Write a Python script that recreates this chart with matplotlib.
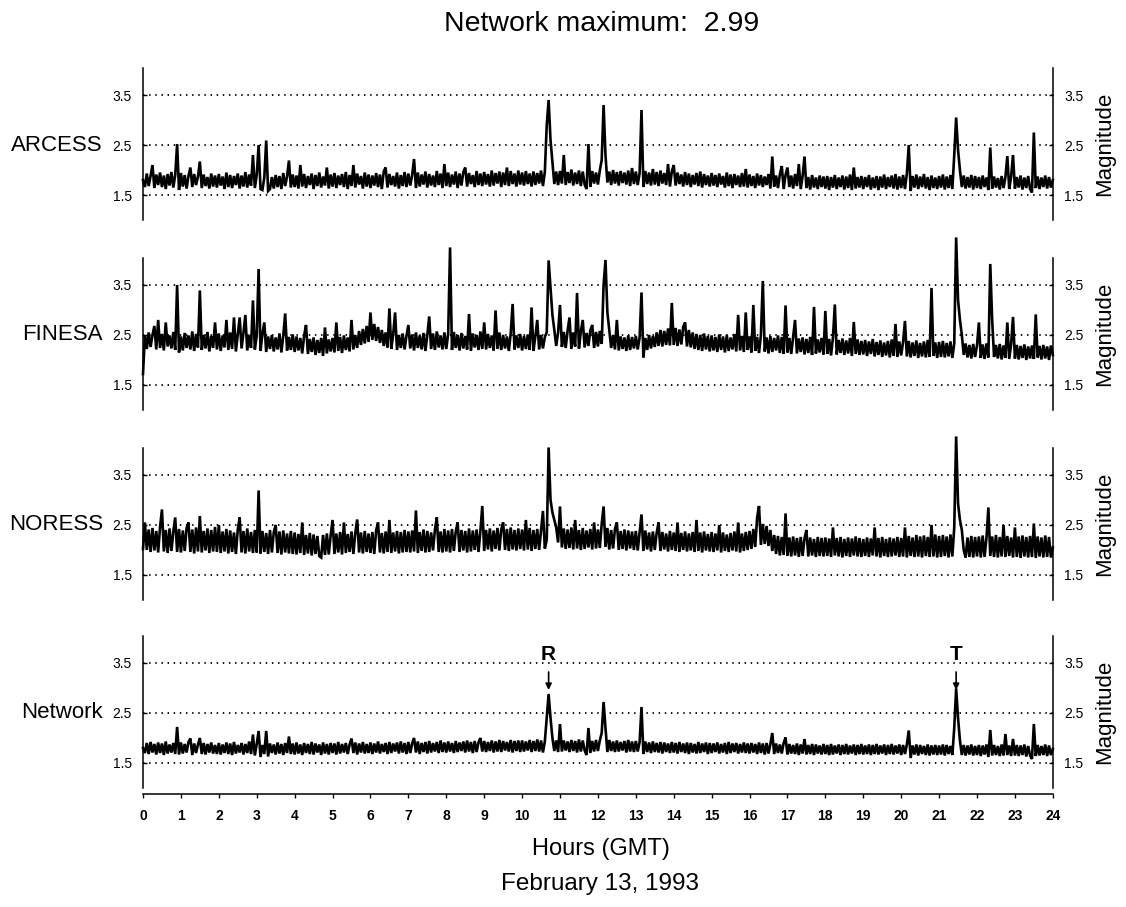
import numpy as np
import matplotlib
matplotlib.use("Agg")
import matplotlib.pyplot as plt

plt.rcParams['font.family'] = ['Liberation Sans', 'DejaVu Sans']

# magnitude samples every 3 minutes (20 per hour)
arcess = [
    1.80, 1.66, 1.93, 1.68, 1.88, 2.10, 1.64, 1.91, 1.70, 1.95, 1.66, 1.89, 1.62, 1.92, 1.69, 1.96, 1.65, 1.90, 2.52, 1.60,
    1.94, 1.67, 1.90, 1.63, 1.88, 2.05, 1.66, 1.92, 1.70, 1.87, 2.17, 1.64, 1.91, 1.68, 1.86, 1.63, 1.93, 1.67, 1.89, 1.65,
    1.92, 1.69, 1.87, 1.62, 1.95, 1.66, 1.90, 1.64, 1.88, 1.70, 1.93, 1.63, 1.89, 1.67, 1.96, 1.65, 1.91, 1.69, 2.30, 1.64,
    1.90, 2.50, 1.62, 1.60, 1.85, 2.59, 1.58, 1.62, 1.86, 1.63, 1.90, 1.66, 1.88, 1.62, 1.94, 1.68, 1.87, 2.19, 1.65, 1.91,
    1.66, 1.89, 1.63, 2.10, 1.67, 1.92, 1.64, 1.88, 1.70, 1.93, 1.62, 1.90, 1.68, 1.95, 1.65, 1.87, 1.69, 2.05, 1.63, 1.91,
    1.67, 1.94, 1.64, 1.89, 1.70, 1.92, 1.66, 1.96, 1.62, 1.90, 1.68, 2.10, 1.65, 1.93, 1.71, 1.88, 1.63, 1.95, 1.67, 1.91,
    1.64, 1.89, 1.69, 1.94, 1.66, 1.91, 1.62, 1.97, 2.05, 1.65, 1.92, 1.70, 1.88, 1.67, 1.95, 1.63, 1.90, 1.68, 1.96, 1.66,
    1.93, 1.69, 1.90, 2.22, 1.64, 1.95, 1.67, 1.91, 1.71, 1.97, 1.65, 1.92, 1.69, 1.89, 1.66, 1.98, 1.70, 1.93, 1.64, 2.12,
    1.68, 1.95, 1.66, 1.91, 1.71, 1.97, 1.64, 1.93, 1.69, 1.96, 2.05, 1.67, 1.94, 1.72, 1.90, 1.66, 1.98, 1.70, 1.93, 1.68,
    1.96, 1.71, 1.92, 1.67, 1.99, 1.69, 1.94, 1.73, 1.97, 1.66, 1.95, 1.70, 2.05, 1.68, 1.98, 1.72, 1.93, 1.67, 1.99, 1.71,
    1.95, 1.69, 1.98, 1.72, 1.93, 1.67, 1.97, 1.70, 1.94, 1.73, 1.99, 1.68, 1.96, 2.90, 3.40, 2.60, 2.15, 1.72, 1.97, 1.70,
    1.98, 1.73, 2.30, 1.70, 1.96, 1.74, 2.01, 1.69, 1.95, 1.72, 1.99, 1.68, 1.97, 1.71, 1.62, 2.52, 1.66, 1.98, 1.73, 1.95,
    1.71, 1.99, 2.20, 3.30, 2.30, 1.75, 1.97, 1.70, 2.00, 1.73, 1.96, 1.69, 1.98, 1.74, 1.95, 1.71, 1.99, 1.68, 2.04, 1.72,
    1.97, 1.70, 1.94, 3.20, 1.66, 1.98, 1.72, 1.95, 1.69, 2.02, 1.71, 1.96, 1.68, 1.99, 1.73, 1.94, 1.70, 2.12, 1.67, 1.97,
    2.10, 1.69, 1.95, 1.72, 1.91, 1.67, 1.96, 1.70, 1.93, 1.66, 1.90, 1.71, 1.94, 1.68, 1.97, 1.65, 1.92, 1.70, 1.89, 1.67,
    1.94, 1.69, 1.90, 1.66, 1.93, 1.71, 1.88, 1.65, 1.95, 1.68, 1.91, 1.64, 1.92, 1.70, 1.89, 1.66, 1.94, 1.67, 2.02, 1.65,
    1.91, 1.68, 1.88, 1.64, 1.93, 1.69, 1.90, 1.66, 1.87, 1.70, 1.92, 1.63, 2.27, 1.67, 1.89, 1.64, 1.91, 2.08, 1.62, 1.90,
    2.05, 1.66, 1.89, 1.63, 1.92, 1.68, 2.12, 1.62, 1.88, 2.27, 1.64, 1.86, 1.61, 1.90, 1.65, 1.85, 1.62, 1.89, 1.66, 1.87,
    1.63, 1.88, 1.60, 1.86, 1.65, 1.90, 1.62, 1.85, 1.66, 1.89, 1.61, 1.87, 1.64, 1.91, 1.60, 2.05, 1.63, 1.86, 1.65, 1.88,
    1.62, 1.86, 1.66, 1.90, 1.61, 1.85, 1.64, 1.88, 1.60, 1.87, 1.65, 1.91, 1.62, 1.86, 1.66, 1.89, 1.63, 1.92, 1.61, 1.87,
    1.64, 1.90, 1.62, 1.93, 2.50, 1.58, 1.88, 1.65, 1.91, 1.62, 1.87, 1.66, 1.92, 1.63, 1.86, 1.60, 1.89, 1.64, 1.85, 1.62,
    1.88, 1.65, 1.91, 1.61, 1.87, 1.64, 1.90, 1.62, 2.30, 3.05, 2.40, 2.00, 1.66, 1.89, 1.63, 1.86, 1.65, 1.90, 1.61, 1.88,
    1.64, 1.86, 1.62, 1.89, 1.66, 1.85, 1.60, 2.45, 1.63, 1.87, 1.65, 1.84, 1.61, 1.88, 1.64, 1.86, 2.28, 1.62, 1.87, 2.30,
    1.63, 1.86, 1.65, 1.89, 1.61, 1.85, 1.64, 1.88, 1.62, 1.55, 2.75, 1.64, 1.87, 1.62, 1.85, 1.66, 1.89, 1.63, 1.86, 1.65,
    1.80,
]

finesa = [
    1.72, 2.48, 2.22, 2.55, 2.26, 2.50, 2.68, 2.21, 2.80, 2.24, 2.52, 2.19, 2.75, 2.27, 2.49, 2.23, 2.56, 2.20, 3.50, 2.15,
    2.47, 2.19, 2.54, 2.24, 2.49, 2.21, 2.57, 2.18, 2.52, 2.25, 3.39, 2.20, 2.50, 2.23, 2.56, 2.17, 2.48, 2.24, 2.75, 2.21,
    2.53, 2.18, 2.49, 2.25, 2.80, 2.20, 2.55, 2.22, 2.85, 2.17, 2.51, 2.85, 2.23, 2.54, 2.90, 2.19, 2.50, 2.24, 3.19, 2.21,
    2.48, 3.82, 2.18, 2.52, 2.75, 2.16, 2.47, 2.22, 2.50, 2.17, 2.45, 2.21, 2.53, 2.15, 2.48, 2.93, 2.19, 2.46, 2.20, 2.51,
    2.16, 2.47, 2.19, 2.44, 2.13, 2.48, 2.70, 2.12, 2.42, 2.16, 2.45, 2.10, 2.40, 2.14, 2.44, 2.08, 2.65, 2.13, 2.41, 2.17,
    2.44, 2.15, 2.75, 2.18, 2.46, 2.14, 2.49, 2.20, 2.45, 2.17, 2.80, 2.21, 2.50, 2.24, 2.58, 2.30, 2.62, 2.33, 2.68, 2.36,
    2.95, 2.40, 2.72, 2.38, 2.66, 2.34, 2.60, 2.28, 2.55, 2.25, 3.03, 2.22, 2.52, 2.95, 2.20, 2.50, 2.24, 2.53, 2.21, 2.48,
    2.70, 2.23, 2.51, 2.19, 2.55, 2.24, 2.49, 2.21, 2.54, 2.18, 2.50, 2.87, 2.22, 2.53, 2.20, 2.57, 2.25, 2.49, 2.21, 2.55,
    2.22, 2.52, 4.25, 2.20, 2.56, 2.24, 2.50, 2.19, 2.54, 2.23, 2.48, 2.21, 2.92, 2.18, 2.53, 2.25, 2.50, 2.20, 2.57, 2.22,
    2.75, 2.21, 2.52, 2.24, 2.49, 2.19, 2.99, 2.22, 2.55, 2.20, 2.50, 2.23, 2.47, 2.18, 2.53, 3.12, 2.21, 2.49, 2.24, 2.52,
    2.19, 2.48, 2.22, 2.51, 2.20, 3.05, 2.18, 2.47, 2.80, 2.21, 2.50, 2.23, 2.46, 2.55, 3.99, 3.45, 2.90, 2.60, 2.28, 2.55,
    3.10, 2.26, 2.56, 2.24, 2.58, 2.85, 2.22, 2.55, 2.27, 3.34, 2.23, 2.57, 2.80, 2.25, 2.54, 2.28, 2.59, 2.70, 2.24, 2.56,
    2.27, 2.58, 2.32, 3.50, 4.00, 2.95, 2.60, 2.24, 2.50, 2.21, 2.80, 2.19, 2.47, 2.22, 2.45, 2.18, 2.49, 2.20, 2.46, 2.23,
    2.48, 2.21, 2.45, 3.35, 2.05, 2.44, 2.20, 2.50, 2.23, 2.48, 2.26, 2.55, 2.28, 2.60, 2.27, 2.58, 2.30, 2.63, 2.29, 3.14,
    2.30, 2.64, 2.28, 2.61, 2.31, 2.66, 2.75, 2.27, 2.60, 2.25, 2.55, 2.22, 2.52, 2.20, 2.50, 2.18, 2.53, 2.21, 2.48, 2.17,
    2.49, 2.19, 2.46, 2.16, 2.51, 2.20, 2.47, 2.15, 2.50, 2.18, 2.45, 2.21, 2.52, 2.17, 2.90, 2.19, 2.48, 2.16, 2.95, 2.20,
    2.47, 2.15, 3.10, 2.18, 2.46, 2.14, 2.50, 3.58, 2.17, 2.45, 2.13, 2.48, 2.16, 2.44, 2.19, 2.49, 2.14, 2.46, 2.12, 3.09,
    2.15, 2.44, 2.12, 2.47, 2.80, 2.13, 2.43, 2.16, 2.45, 2.11, 2.42, 2.14, 2.46, 2.10, 3.06, 2.13, 2.41, 2.15, 2.44, 2.11,
    2.98, 2.12, 2.42, 2.09, 2.45, 3.11, 2.11, 2.40, 2.14, 2.43, 2.10, 2.39, 2.13, 2.44, 2.08, 2.76, 2.12, 2.41, 2.10, 2.38,
    2.11, 2.40, 2.08, 2.37, 2.12, 2.42, 2.07, 2.36, 2.10, 2.39, 2.06, 2.35, 2.09, 2.38, 2.05, 2.41, 2.08, 2.72, 2.06, 2.37,
    2.09, 2.36, 2.78, 2.07, 2.38, 2.05, 2.35, 2.08, 2.39, 2.04, 2.34, 2.07, 2.37, 2.05, 2.40, 2.06, 3.44, 2.08, 2.35, 2.04,
    2.36, 2.06, 2.38, 2.05, 2.34, 2.07, 2.37, 2.04, 2.33, 4.45, 3.20, 2.80, 2.50, 2.10, 2.33, 2.05, 2.30, 2.03, 2.32, 2.06,
    2.29, 2.75, 2.04, 2.31, 2.02, 2.33, 2.05, 3.92, 2.80, 2.06, 2.30, 2.03, 2.32, 2.01, 2.29, 2.04, 2.75, 2.02, 2.31, 2.86,
    2.03, 2.30, 2.01, 2.28, 2.04, 2.31, 2.00, 2.27, 2.03, 2.29, 2.02, 2.91, 2.05, 2.28, 2.01, 2.30, 2.03, 2.27, 2.00, 2.29,
    2.10,
]

noress = [
    2.02, 2.55, 2.00, 2.41, 1.96, 2.44, 1.99, 2.38, 1.95, 2.46, 2.81, 1.97, 2.40, 1.94, 2.43, 1.98, 2.37, 2.65, 1.96, 2.42,
    1.95, 2.39, 1.98, 2.44, 2.55, 1.96, 2.41, 1.93, 2.45, 1.97, 2.68, 1.95, 2.38, 1.99, 2.43, 1.94, 2.40, 1.97, 2.46, 1.96,
    2.50, 1.94, 2.37, 1.97, 2.42, 1.93, 2.39, 1.96, 2.35, 1.92, 2.41, 2.65, 1.95, 2.38, 1.93, 2.43, 1.97, 2.36, 1.94, 2.40,
    1.95, 3.19, 1.93, 2.38, 1.96, 2.34, 1.92, 2.40, 1.95, 2.36, 2.50, 1.94, 2.37, 1.91, 2.39, 1.95, 2.33, 1.93, 2.38, 1.92,
    2.35, 1.91, 2.32, 1.94, 2.55, 1.90, 2.30, 1.93, 2.34, 1.89, 2.31, 1.92, 2.28, 1.88, 1.85, 2.30, 1.90, 2.33, 1.91, 2.29,
    2.60, 1.92, 2.33, 1.95, 2.36, 1.91, 2.55, 1.94, 2.32, 1.96, 2.37, 1.92, 2.34, 2.61, 1.95, 2.35, 1.93, 2.38, 1.96, 2.33,
    1.94, 2.36, 1.92, 2.39, 2.55, 1.95, 2.34, 1.93, 2.37, 1.96, 2.60, 1.94, 2.35, 1.97, 2.38, 1.93, 2.36, 1.95, 2.40, 1.96,
    2.37, 1.95, 2.39, 1.97, 2.79, 1.94, 2.36, 1.98, 2.41, 1.95, 2.38, 1.96, 2.35, 1.99, 2.40, 2.65, 1.96, 2.37, 1.95, 2.42,
    1.97, 2.39, 1.95, 2.42, 1.98, 2.37, 2.55, 1.96, 2.40, 1.99, 2.38, 1.95, 2.43, 1.97, 2.39, 2.00, 2.41, 1.96, 2.38, 2.88,
    1.98, 2.40, 2.01, 2.43, 1.97, 2.39, 2.02, 2.44, 1.99, 2.41, 2.55, 2.00, 2.42, 1.98, 2.45, 2.01, 2.40, 1.99, 2.43, 2.02,
    2.41, 1.99, 2.60, 2.01, 2.44, 1.98, 2.40, 2.02, 2.42, 2.00, 2.39, 2.78, 2.03, 2.20, 4.05, 3.00, 2.75, 2.60, 2.45, 2.15,
    2.87, 2.05, 2.43, 2.02, 2.41, 2.04, 2.45, 2.01, 2.60, 2.03, 2.40, 2.00, 2.44, 2.02, 2.39, 2.05, 2.42, 2.01, 2.55, 2.03,
    2.41, 2.04, 2.52, 2.87, 2.06, 2.44, 2.01, 2.40, 2.03, 2.42, 2.55, 2.00, 2.38, 2.02, 2.41, 1.99, 2.39, 2.03, 2.37, 2.00,
    2.38, 1.99, 2.36, 2.71, 1.98, 2.39, 2.01, 2.35, 1.97, 2.37, 2.00, 2.34, 2.55, 1.98, 2.36, 2.01, 2.33, 1.97, 2.38, 2.00,
    2.35, 1.98, 2.55, 1.96, 2.34, 2.00, 2.37, 1.97, 2.33, 1.99, 2.36, 1.96, 2.60, 1.98, 2.35, 1.95, 2.37, 1.99, 2.32, 1.97,
    2.36, 1.96, 2.33, 1.99, 2.50, 1.95, 2.35, 1.98, 2.31, 1.96, 2.34, 1.99, 2.37, 1.97, 2.55, 1.95, 2.33, 1.98, 2.36, 2.00,
    2.38, 2.02, 2.42, 2.06, 2.65, 2.88, 2.10, 2.52, 2.12, 2.48, 2.08, 2.40, 1.98, 2.30, 1.92, 2.28, 1.89, 2.26, 1.90, 2.73,
    1.88, 2.25, 1.87, 2.27, 1.89, 2.24, 1.86, 2.26, 1.88, 2.23, 2.40, 1.87, 2.25, 1.89, 2.22, 1.86, 2.26, 1.88, 2.24, 1.87,
    2.25, 1.88, 2.23, 1.86, 2.45, 1.89, 2.24, 1.87, 2.26, 1.85, 2.22, 1.88, 2.25, 1.86, 2.23, 1.89, 2.27, 1.87, 2.24, 1.86,
    2.22, 1.88, 2.25, 1.86, 2.23, 1.89, 2.45, 1.87, 2.24, 1.85, 2.26, 1.88, 2.22, 1.86, 2.25, 1.87, 2.23, 1.89, 2.26, 1.86,
    2.24, 1.87, 2.45, 1.85, 2.28, 1.88, 2.25, 1.86, 2.30, 1.87, 2.27, 1.85, 2.29, 1.88, 2.26, 1.86, 2.50, 1.87, 2.31, 1.85,
    2.28, 1.86, 2.30, 1.88, 2.27, 1.85, 2.31, 1.87, 2.45, 4.27, 2.93, 2.60, 2.40, 2.00, 1.85, 2.25, 1.86, 2.28, 1.85, 2.26,
    1.87, 2.27, 1.85, 2.29, 1.86, 2.24, 2.85, 1.88, 2.27, 1.86, 2.30, 1.85, 2.26, 1.87, 2.50, 1.86, 2.28, 1.88, 2.25, 1.85,
    2.45, 1.86, 2.27, 1.84, 2.29, 1.87, 2.26, 1.85, 2.28, 1.86, 2.53, 1.84, 2.27, 1.87, 2.25, 1.85, 2.29, 1.86, 2.26, 1.85,
    2.05,
]

network = [
    1.80, 1.70, 1.90, 1.68, 1.92, 1.71, 1.88, 1.67, 1.91, 1.70, 1.89, 1.66, 1.93, 1.69, 1.87, 1.71, 1.90, 1.68, 2.22, 1.67,
    1.91, 1.69, 1.88, 1.71, 1.92, 1.99, 1.66, 1.89, 1.70, 1.87, 2.00, 1.68, 1.90, 1.67, 1.88, 1.71, 1.91, 1.69, 1.86, 1.68,
    1.90, 1.67, 1.87, 1.70, 1.91, 1.68, 1.89, 1.66, 1.92, 1.69, 1.86, 1.71, 1.90, 1.67, 1.88, 1.70, 1.93, 1.68, 2.07, 1.65,
    1.88, 2.14, 1.62, 1.86, 1.68, 2.14, 1.63, 1.89, 1.70, 1.87, 1.67, 1.91, 1.69, 1.88, 1.66, 1.90, 1.70, 2.03, 1.68, 1.89,
    1.67, 1.91, 1.69, 1.87, 1.66, 1.90, 1.70, 1.88, 1.68, 1.92, 1.67, 1.89, 1.71, 1.87, 1.66, 1.91, 1.69, 1.88, 1.67, 1.90,
    1.70, 1.89, 1.67, 1.92, 1.69, 1.88, 1.71, 1.90, 1.68, 1.87, 1.99, 1.70, 1.91, 1.67, 1.89, 1.71, 1.92, 1.69, 1.88, 1.70,
    1.91, 1.68, 1.89, 1.71, 1.93, 1.69, 1.88, 1.72, 1.90, 1.68, 1.92, 1.70, 1.89, 1.73, 1.91, 1.69, 1.93, 1.71, 1.90, 1.68,
    1.92, 1.70, 1.89, 2.00, 1.71, 1.93, 1.68, 1.90, 1.72, 1.92, 1.69, 1.94, 1.71, 1.90, 1.73, 1.92, 1.70, 1.95, 1.72, 1.91,
    1.71, 1.93, 1.73, 1.90, 1.70, 1.94, 1.72, 1.91, 1.74, 1.93, 1.71, 1.95, 1.73, 1.92, 1.70, 1.94, 1.72, 1.91, 2.00, 1.73,
    1.94, 1.72, 1.92, 1.74, 1.95, 1.71, 1.93, 1.73, 1.96, 1.72, 1.94, 1.75, 1.92, 1.73, 1.96, 1.71, 1.94, 1.74, 1.95, 1.72,
    1.95, 1.73, 1.93, 1.75, 1.96, 1.72, 1.94, 1.74, 1.97, 1.73, 1.95, 1.71, 1.93, 2.40, 2.88, 2.40, 2.00, 1.74, 1.95, 1.72,
    2.28, 1.73, 1.95, 1.75, 1.93, 1.72, 1.96, 1.74, 1.94, 1.71, 1.97, 1.73, 1.95, 1.75, 1.66, 2.20, 1.70, 1.94, 1.73, 1.96,
    1.74, 1.95, 2.10, 2.72, 2.20, 1.72, 1.96, 1.74, 1.93, 1.72, 1.95, 1.73, 1.92, 1.75, 1.94, 1.71, 1.96, 1.73, 1.93, 1.72,
    1.94, 1.73, 1.92, 2.62, 1.68, 1.93, 1.72, 1.91, 1.70, 1.93, 1.72, 1.90, 1.71, 1.92, 1.69, 1.91, 1.72, 1.89, 1.70, 1.92,
    1.71, 1.90, 1.69, 1.92, 1.72, 1.89, 1.70, 1.91, 1.68, 1.90, 1.71, 1.88, 1.69, 1.92, 1.70, 1.89, 1.72, 1.91, 1.68, 1.90,
    1.70, 1.89, 1.72, 1.91, 1.69, 1.88, 1.71, 1.90, 1.68, 1.92, 1.70, 1.89, 1.72, 1.90, 1.69, 1.88, 1.71, 1.91, 1.70, 1.89,
    1.69, 1.90, 1.71, 1.88, 1.68, 1.91, 1.70, 1.89, 1.67, 1.90, 1.69, 1.88, 2.10, 1.68, 1.89, 1.70, 1.87, 1.69, 1.90, 2.01,
    1.67, 1.88, 1.69, 1.86, 1.68, 1.89, 1.66, 1.87, 1.69, 1.98, 1.67, 1.86, 1.68, 1.88, 1.66, 1.87, 1.69, 1.85, 1.67, 1.88,
    1.68, 1.86, 1.66, 1.88, 1.67, 1.85, 1.69, 1.87, 1.66, 1.86, 1.68, 1.88, 1.67, 1.85, 1.69, 1.87, 1.66, 1.86, 1.68, 1.88,
    1.67, 1.85, 1.68, 1.87, 1.66, 1.86, 1.68, 1.88, 1.67, 1.85, 1.69, 1.87, 1.66, 1.86, 1.68, 1.88, 1.67, 1.85, 1.69, 1.87,
    1.66, 1.86, 1.68, 1.87, 2.15, 1.60, 1.85, 1.67, 1.87, 1.65, 1.86, 1.68, 1.84, 1.66, 1.87, 1.65, 1.85, 1.67, 1.86, 1.66,
    1.85, 1.67, 1.87, 1.65, 1.86, 1.68, 1.84, 1.66, 2.20, 2.99, 2.40, 1.95, 1.66, 1.86, 1.65, 1.85, 1.67, 1.87, 1.65, 1.84,
    1.66, 1.86, 1.64, 1.85, 1.67, 1.87, 1.62, 2.16, 1.65, 1.86, 1.66, 1.84, 1.64, 1.87, 1.65, 2.08, 1.66, 1.85, 1.64, 1.98,
    1.65, 1.86, 1.64, 1.85, 1.66, 1.87, 1.63, 1.84, 1.65, 1.58, 2.28, 1.64, 1.86, 1.65, 1.84, 1.66, 1.87, 1.64, 1.85, 1.66,
    1.78,
]

stations = ["ARCESS", "FINESA", "NORESS", "Network"]
series = [arcess, finesa, noress, network]
events = [("R", 10.7), ("T", 21.45)]
hour_ticks = list(range(25))
mag_ticks = [1.5, 2.5, 3.5]

fig = plt.figure(figsize=(11.26, 9.07), dpi=100)

left, width, height = 0.127, 0.808, 0.1676
bottoms = [0.7574, 0.548, 0.3385, 0.1312]

for i, (name, vals) in enumerate(zip(stations, series)):
    ax = fig.add_axes([left, bottoms[i], width, height])
    hours = np.linspace(0, 24, len(vals))
    for v in mag_ticks:
        ax.axhline(v, color='black', lw=1.3, ls=(0, (0.8, 2.6)), zorder=1)
    ax.plot(hours, vals, color='black', lw=1.9, clip_on=False, zorder=3,
            solid_joinstyle='miter')
    ax.set_xlim(0, 24)
    ax.set_ylim(1.0, 4.04)

    ax.spines['top'].set_visible(False)
    for s in ('left', 'right'):
        ax.spines[s].set_linewidth(1.1)
    ax.set_yticks(mag_ticks)
    ax.set_yticklabels([str(v) for v in mag_ticks])
    ax.tick_params(axis='y', left=True, right=True, labelleft=True,
                   labelright=True, direction='in', length=3, width=1,
                   labelsize=10, pad=8)
    ax.yaxis.set_label_position('right')
    ax.set_ylabel('Magnitude', fontsize=16, labelpad=8)
    ax.text(-0.044, 2.5, name, transform=ax.get_yaxis_transform(),
            ha='right', va='center', fontsize=16)

    if name == "Network":
        ax.spines['bottom'].set_position(('outward', 4))
        ax.spines['bottom'].set_linewidth(1.1)
        ax.set_xticks(hour_ticks)
        ax.set_xticklabels([str(h) for h in hour_ticks],
                           family=['Liberation Sans Narrow', 'Liberation Sans'],
                           fontweight='bold', fontsize=10)
        ax.tick_params(axis='x', direction='out', length=3, width=1, pad=8)
        for lab, t in events:
            ax.annotate('', xy=(t, 2.96), xytext=(t, 3.32),
                        arrowprops=dict(arrowstyle='-|>', color='black', lw=1.2,
                                        mutation_scale=9, shrinkA=0, shrinkB=0))
            ax.text(t, 3.48, lab, ha='center', va='bottom', fontsize=15,
                    fontweight='bold')
    else:
        ax.spines['bottom'].set_visible(False)
        ax.set_xticks([])

fig.text(0.534, 1 - 24 / 907, "Network maximum:  2.99", ha='center', va='center', fontsize=20.5)
fig.text(0.534, 1 - 849 / 907, "Hours (GMT)", ha='center', va='center', fontsize=17)
fig.text(0.533, 1 - 884 / 907, "February 13, 1993", ha='center', va='center', fontsize=17.5)

fig.savefig('out.png', dpi=100)
